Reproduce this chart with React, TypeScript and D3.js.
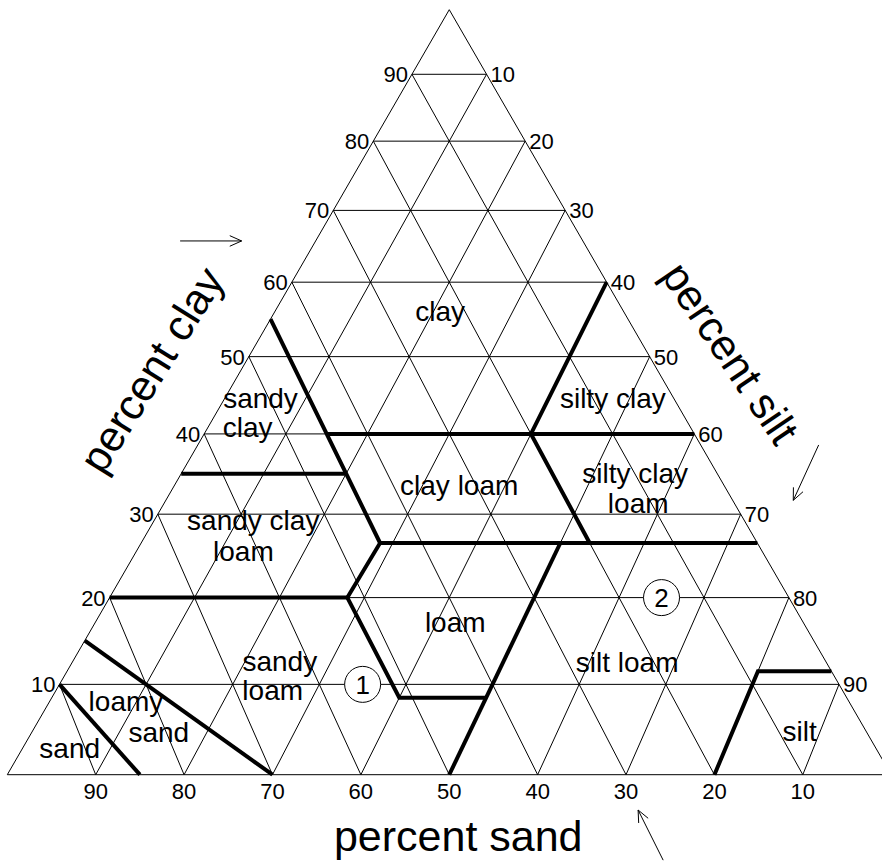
import React from 'react';
import * as d3 from 'd3';

const W = 882;
const H = 861;

// grid percentages
const gridValues = [10, 20, 30, 40, 50, 60, 70, 80, 90];
const clayTicks = [10, 20, 30, 40, 50, 60, 70, 80, 90];
const siltTicks = [10, 20, 30, 40, 50, 60, 70, 80, 90];
const sandTicks = [90, 80, 70, 60, 50, 40, 30, 20, 10];

// texture class boundaries, points as [sand, clay] (silt = 100 - sand - clay)
const boundaryLines: [number, number][][] = [
  [[45, 55], [45, 26.5], [52, 20], [51.5, 8.5], [41.5, 8.5]],
  [[45, 40], [0, 40]],
  [[65, 35], [45, 35]],
  [[45, 26.5], [0, 26.5]],
  [[0, 60], [20, 40], [20, 26.5]],
  [[80, 20], [52, 20]],
  [[50, 0], [23.5, 26.5]],
  [[20, 0], [8.5, 11.5], [0, 11.5]],
  [[85, 15], [70, 0]],
  [[90, 10], [85, 0]],
];

// texture class names (one entry per text line)
const labelText = [
  'clay', 'clay loam', 'silty clay', 'silty clay', 'loam', 'sandy', 'clay',
  'sandy clay', 'loam', 'sandy', 'loam', 'loam', 'silt loam', 'silt',
  'loamy', 'sand', 'sand',
];
const labelSand = [23.8, 32.6, 8.2, 10.6, 12.2, 56.2, 57.9, 59.4, 62.3, 68.2, 69.7, 41.3, 23.7, 8.2, 83.6, 81.3, 92.2];
const labelClay = [54.7, 32.4, 43.3, 33.8, 30.2, 43.3, 39.6, 28.1, 24.3, 11.5, 8.2, 16.0, 11.4, 3.7, 7.0, 3.6, 1.8];
const labelAlign = [
  'middle', 'middle', 'middle', 'middle', 'middle', 'start', 'start',
  'middle', 'middle', 'start', 'start', 'middle', 'middle', 'middle',
  'middle', 'middle', 'middle',
];

// sample points
const sampleIds = ['1', '2'];
const sampleSand = [55, 15];
const sampleClay = [10, 20];

// direction arrows [tail, tip] as [sand, clay]
const arrows: [number, number][][] = [
  [[51.7, 65.7], [43.8, 65.7]],
  [[-14.4, 38.6], [-7.3, 31.7]],
  [[30.8, -9.1], [30.7, -3.8]],
];

// axis titles
const axisTitles = ['percent clay', 'percent silt', 'percent sand'];
const axisTitleSand = [62.6, -9.8, 52.5];
const axisTitleClay = [48.0, 50.2, -7.0];
const axisTitleAngle = [-58, 56, 0];

const xScale = d3.scaleLinear().domain([0, 1]).range([7.3, 891.2]);
const yScale = d3.scaleLinear().domain([0, 1]).range([774.7, 9.7]);
const apexWeight = 1.205; // perspective of the drawing

function project(sand: number, clay: number): [number, number] {
  const silt = 100 - sand - clay;
  const cw = clay * apexWeight;
  const den = sand + silt + cw;
  const c = cw / den;
  const t = silt / den;
  return [xScale(t + c / 2), yScale(c)];
}

const FONT = '"Liberation Sans", Arial, Helvetica, sans-serif';

export default function App() {
  const line = d3.line<[number, number]>().x((d) => d[0]).y((d) => d[1]);

  const gridSegs: [[number, number], [number, number]][] = [];
  gridValues.forEach((v) => {
    gridSegs.push([project(100 - v, v), project(0, v)]); // clay
    gridSegs.push([project(v, 0), project(v, 100 - v)]); // sand
    gridSegs.push([project(100 - v, 0), project(0, 100 - v)]); // silt
  });
  const outline = [project(100, 0), project(0, 0), project(0, 100)];

  return (
    <svg
      width={W}
      height={H}
      viewBox={`0 0 ${W} ${H}`}
      style={{ position: 'absolute', left: 0, top: 0, background: '#fff' }}
    >
      <rect x={0} y={0} width={W} height={H} fill="#fff" />
      <g stroke="#000" strokeWidth={1} fill="none">
        {gridSegs.map((s, i) => (
          <line key={i} x1={s[0][0]} y1={s[0][1]} x2={s[1][0]} y2={s[1][1]} />
        ))}
        <path d={line(outline as [number, number][])! + 'Z'} />
      </g>
      <g stroke="#000" strokeWidth={4} fill="none" strokeLinejoin="miter" strokeLinecap="butt">
        {boundaryLines.map((pts, i) => (
          <path key={i} d={line(pts.map((p) => project(p[0], p[1])))!} />
        ))}
      </g>
      <g fontFamily={FONT} fontSize={22} fill="#000">
        {clayTicks.map((v) => {
          const [x, y] = project(100 - v, v);
          return (
            <text key={'c' + v} x={x - 4} y={y + 8} textAnchor="end">{v}</text>
          );
        })}
        {siltTicks.map((v) => {
          const [x, y] = project(0, 100 - v);
          return (
            <text key={'s' + v} x={x + 4} y={y + 8} textAnchor="start">{v}</text>
          );
        })}
        {sandTicks.map((v) => {
          const [x, y] = project(v, 0);
          return (
            <text key={'d' + v} x={x} y={y + 24} textAnchor="middle">{v}</text>
          );
        })}
      </g>
      <g fontFamily={FONT} fontSize={28} fill="#000">
        {labelText.map((t, i) => {
          const [x, y] = project(labelSand[i], labelClay[i]);
          return (
            <text key={i} x={x} y={y} textAnchor={labelAlign[i] as any}>{t}</text>
          );
        })}
      </g>
      <g>
        {sampleIds.map((id, i) => {
          const [x, y] = project(sampleSand[i], sampleClay[i]);
          return (
            <g key={id}>
              <circle cx={x} cy={y} r={18} fill="#fff" stroke="#000" strokeWidth={1} />
              <text x={x} y={y + 9.5} textAnchor="middle" fontFamily={FONT} fontSize={26}>{id}</text>
            </g>
          );
        })}
      </g>
      <g stroke="#000" strokeWidth={1} fill="none">
        {arrows.map((a, i) => {
          const p0 = project(a[0][0], a[0][1]);
          const p1 = project(a[1][0], a[1][1]);
          const ang = Math.atan2(p1[1] - p0[1], p1[0] - p0[0]);
          const L = 13;
          const spread = (24 * Math.PI) / 180;
          const h1 = [p1[0] - L * Math.cos(ang - spread), p1[1] - L * Math.sin(ang - spread)];
          const h2 = [p1[0] - L * Math.cos(ang + spread), p1[1] - L * Math.sin(ang + spread)];
          return (
            <g key={i}>
              <line x1={p0[0]} y1={p0[1]} x2={p1[0]} y2={p1[1]} />
              <polyline points={`${h1[0]},${h1[1]} ${p1[0]},${p1[1]} ${h2[0]},${h2[1]}`} />
            </g>
          );
        })}
      </g>
      <g fontFamily={FONT} fontSize={43} fill="#000">
        {axisTitles.map((t, i) => {
          const [x, y] = project(axisTitleSand[i], axisTitleClay[i]);
          return (
            <text
              key={t}
              transform={`translate(${x},${y}) rotate(${axisTitleAngle[i]})`}
              textAnchor="middle"
              dy="0.26em"
            >
              {t}
            </text>
          );
        })}
      </g>
    </svg>
  );
}
